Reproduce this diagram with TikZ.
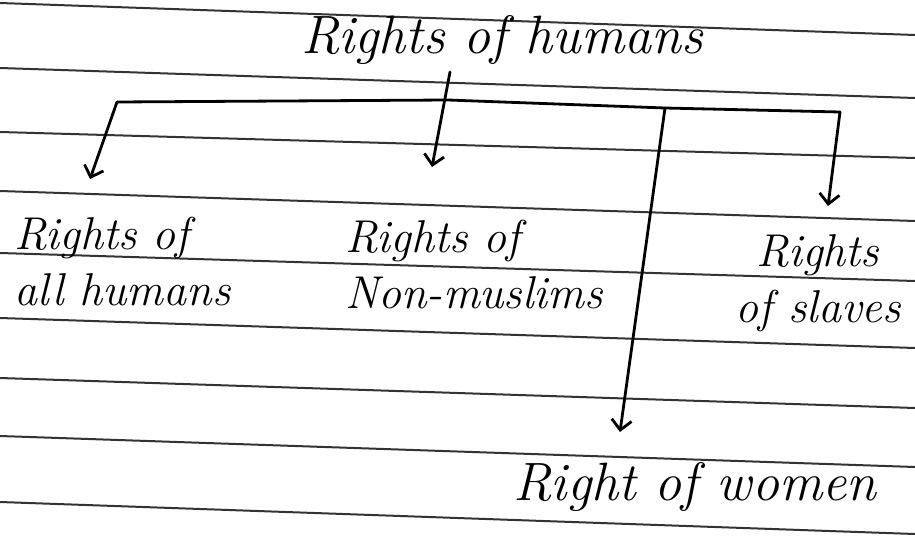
\documentclass[tikz,border=0pt]{standalone}
\usetikzlibrary{arrows.meta}
\begin{document}
\begin{tikzpicture}[x=1pt,y=-1pt,
  rule/.style={draw=black!80,line width=2pt},
  pen/.style={draw=black,line width=2.8pt,line cap=round,line join=round},
  arr/.style={pen,-{Straight Barb[length=10pt,width=20pt,line width=2.8pt]}},
  hand/.style={font=\fontsize{54}{60}\selectfont\itshape,inner sep=0pt,align=center},
  hand2/.style={font=\fontsize{46}{56}\selectfont\itshape,inner sep=0pt}]
\useasboundingbox[fill=white] (0,0) rectangle (915,551);
% ruled paper lines
\foreach \l/\r in {3/35,68/98,132/158,191/221,253/281,318/348,378/408,436/467,502/534}
  \draw[rule] (0,\l) -- (915,\r);
% texts
\node[hand] (top) at (502,40) {Rights of humans};
\node[hand2,align=left,anchor=west] (all) at (14,262) {Rights of\\all humans};
\node[hand2,align=left,anchor=west] (non) at (345,265) {Rights of\\Non-muslims};
\node[hand2,align=center] (sla) at (818,283) {Rights\\of slaves};
\node[hand] (wom) at (695,487) {Right of women};
% connectors
\coordinate (stemtop) at (450,72);
\coordinate (bl) at (117,102);
\coordinate (bm) at (448,100);
\coordinate (bw) at (665,108);
\coordinate (br) at (840,112);
\coordinate (tall) at (90,179);
\coordinate (tnon) at (432,167);
\coordinate (tsla) at (828,206);
\coordinate (twom) at (620,432);
\draw[pen] (bl) -- (bm) -- (bw) -- (br);
\draw[arr] (bl) -- (tall);
\draw[arr] (stemtop) -- (tnon);
\draw[arr] (br) -- (tsla);
\draw[arr] (bw) -- (twom);
\end{tikzpicture}
\end{document}
